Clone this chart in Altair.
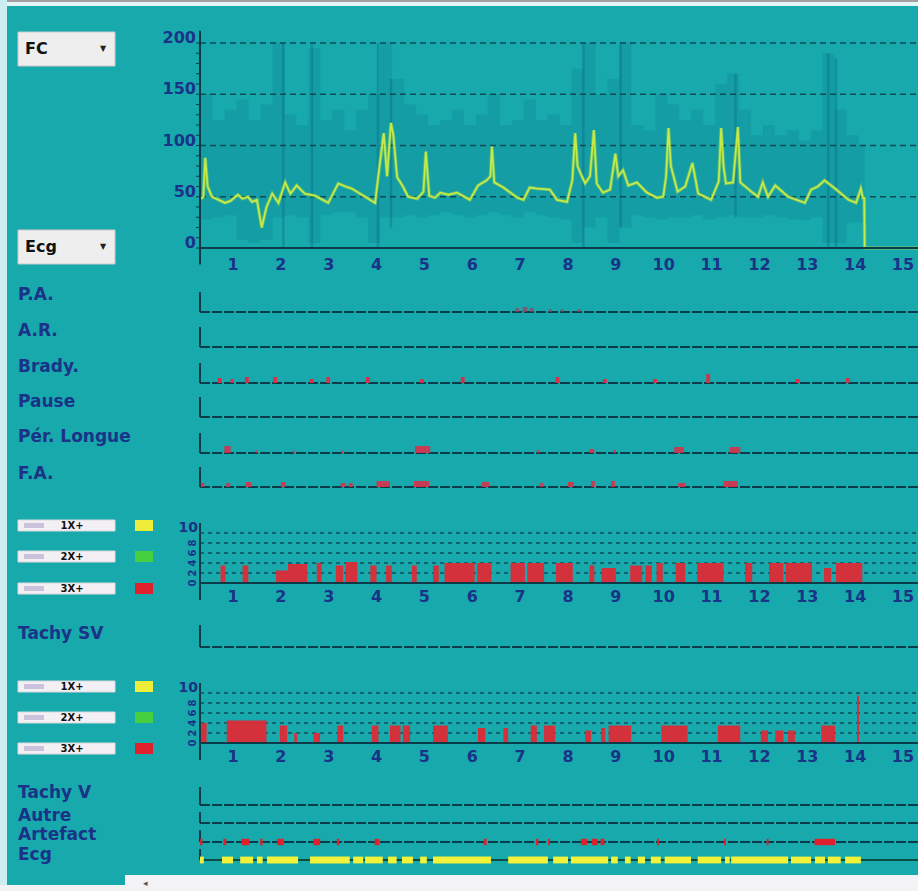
import altair as alt
import pandas as pd

# ---------------- data ----------------
fc_hours = [0.33,0.38,0.42,0.47,0.56,0.70,0.83,0.95,1.10,1.20,1.31,1.40,1.50,1.60,1.70,1.82,1.95,2.09,2.20,2.33,
            2.50,2.71,2.99,3.20,3.35,3.48,3.76,3.97,4.07,4.15,4.22,4.30,4.35,4.43,4.55,4.66,4.85,4.98,5.03,5.10,
            5.22,5.33,5.50,5.68,5.95,6.12,6.30,6.38,6.41,6.46,6.65,6.94,7.07,7.20,7.35,7.62,7.77,7.98,8.09,8.15,
            8.20,8.26,8.36,8.46,8.54,8.60,8.73,8.88,8.99,9.05,9.15,9.26,9.44,9.65,9.86,9.99,10.05,10.10,10.15,10.29,
            10.45,10.60,10.72,10.99,11.15,11.20,11.25,11.30,11.45,11.55,11.60,11.83,11.97,12.07,12.18,12.33,12.60,12.95,13.08,13.22,
            13.36,13.58,13.86,14.02,14.12,14.16,14.19,14.20,15.30]
fc_bpm = [48,50,88,60,50,47,44,46,52,48,50,45,47,20,40,53,44,64,53,61,
          53,51,44,63,60,58,50,44,83,112,70,122,110,69,60,50,48,55,94,51,
          49,54,52,54,47,61,66,70,99,64,59,49,47,59,58,57,47,45,66,112,
          80,73,63,70,115,63,54,57,92,70,76,61,64,54,49,50,70,117,80,55,
          60,83,53,47,65,117,80,63,64,118,64,55,50,64,50,61,50,44,57,60,
          66,58,47,44,58,49,49,0,0]

env_hours = [0.45,0.70,0.95,1.20,1.45,1.70,1.95,2.20,2.45,2.70,2.95,3.20,3.45,3.70,3.95,4.20,4.45,4.70,4.95,5.20,
             5.45,5.70,5.95,6.20,6.45,6.70,6.95,7.20,7.45,7.70,7.95,8.20,8.45,8.70,8.95,9.20,9.45,9.70,9.95,10.20,
             10.45,10.70,10.95,11.20,11.45,11.70,11.95,12.20,12.45,12.70,12.95,13.20,13.45,13.70,13.95,14.20]
env_high = [150,125,135,145,125,140,200,130,120,195,125,135,115,135,150,200,165,140,130,120,
            125,135,120,130,150,120,125,145,125,130,120,175,200,150,165,200,120,115,150,140,
            125,135,120,160,170,135,110,120,110,115,105,115,190,135,110,100]
env_low = [28,30,32,8,5,8,30,32,30,5,32,35,35,30,5,30,30,32,30,32,
           35,32,30,32,35,32,30,35,32,30,28,5,20,30,5,20,32,30,28,30,
           30,32,28,30,32,30,30,32,30,28,27,30,5,5,25,25]

spike_hours = [2.05, 2.65, 4.03, 4.30, 8.32, 9.10, 11.50, 13.44, 13.60]
spike_low = [0, 0, 0, 20, 0, 20, 30, 0, 0]
spike_high = [200, 200, 200, 165, 200, 200, 170, 190, 185]

hour_labels = list(range(1, 16))
fc_ticks = [0, 50, 100, 150, 200]
esv_grid = [2, 4, 6, 8, 10]
esv_small = [0, 2, 4, 6, 8]

# events: (start hour, end hour, height as share of the row)
pa_events = [(6.90,6.98,0.20),(7.05,7.15,0.25),(7.20,7.28,0.20),(7.60,7.66,0.15),(7.85,7.90,0.15),(8.20,8.26,0.15)]
brady_events = [(0.68,0.76,0.25),(0.95,1.01,0.2),(1.25,1.33,0.3),(1.84,1.92,0.3),(2.60,2.68,0.2),(2.95,3.03,0.3),
                (3.78,3.86,0.3),(4.91,4.99,0.2),(5.76,5.84,0.3),(7.74,7.82,0.3),(8.73,8.81,0.2),(9.78,9.86,0.2),
                (10.89,10.97,0.45),(12.76,12.84,0.2),(13.81,13.89,0.25)]
pl_events = [(0.82,0.95,0.35),(1.47,1.51,0.12),(2.25,2.29,0.12),(3.26,3.30,0.12),(4.80,5.12,0.35),(7.35,7.40,0.15),
             (8.45,8.55,0.2),(8.95,9.00,0.15),(10.22,10.42,0.3),(11.38,11.60,0.3)]
fa_events = [(0.33,0.40,0.2),(0.86,0.94,0.2),(1.26,1.38,0.25),(2.00,2.10,0.25),(3.25,3.35,0.2),(3.42,3.50,0.2),
             (4.00,4.28,0.3),(4.78,5.10,0.3),(6.20,6.35,0.25),(7.42,7.48,0.2),(8.00,8.12,0.25),(8.48,8.56,0.3),
             (8.90,8.98,0.3),(10.30,10.45,0.2),(11.25,11.55,0.3)]
art_events = [(0.31,0.36),(0.80,0.86),(1.18,1.34),(1.57,1.62),(1.92,2.06),(2.68,2.82),(3.17,3.22),(3.96,4.06),
              (6.24,6.30),(7.33,7.38),(7.58,7.62),(8.27,8.40),(8.50,8.62),(8.68,8.76),(9.86,9.90),(11.26,11.30),
              (12.15,12.19),(13.15,13.58)]
ecg_segments = [(0.31,0.39),(0.77,1.00),(1.15,1.42),(1.50,1.62),(1.71,2.36),(2.61,3.44),(3.51,3.72),(3.76,4.13),
                (4.24,4.42),(4.53,4.76),(4.91,5.05),(5.18,6.39),(6.75,7.58),(7.69,8.00),(8.06,8.84),(8.90,9.04),
                (9.19,9.31),(9.46,9.61),(9.73,9.94),(10.02,10.57),(10.71,11.20),(11.28,11.38),(11.41,12.60),
                (12.66,13.08),(13.16,13.37),(13.43,13.70),(13.79,14.12)]
# ESV counts per hour (bars), 0-10 scale
esv_sv = [(0.74,0.84,3.5),(1.20,1.32,3.5),(1.90,2.15,2.5),(2.15,2.55,3.8),(2.75,2.85,4.0),(3.15,3.30,3.5),
          (3.35,3.60,4.2),(3.87,4.00,3.5),(4.20,4.32,3.5),(4.74,4.84,3.5),(5.18,5.30,3.5),(5.42,6.05,4.0),
          (6.10,6.40,4.0),(6.80,7.10,4.0),(7.15,7.50,4.0),(7.75,8.10,4.0),(8.45,8.55,3.5),(8.70,9.00,3.0),
          (9.30,9.55,3.5),(9.62,9.75,3.5),(9.85,9.98,4.0),(10.25,10.45,4.0),(10.70,11.25,4.0),(11.70,11.85,4.0),
          (12.20,12.50,4.0),(12.55,13.10,4.0),(13.35,13.50,3.0),(13.60,14.15,4.0)]
esv_v = [(0.33,0.45,4.0),(0.87,1.70,4.5),(1.98,2.13,3.5),(2.28,2.34,2.0),(2.68,2.82,2.0),(3.18,3.30,3.5),
         (3.90,4.04,3.5),(4.28,4.50,3.5),(4.55,4.70,3.5),(5.18,5.49,3.5),(6.12,6.27,3.0),(6.65,6.75,3.0),
         (7.22,7.35,3.5),(7.50,7.73,3.5),(8.36,8.48,2.5),(8.69,8.78,3.0),(8.85,9.32,3.5),(9.95,10.50,3.5),
         (11.13,11.60,3.5),(12.03,12.18,2.5),(12.33,12.50,2.5),(12.60,12.74,2.5),(13.29,13.58,3.5),(14.04,14.08,9.5)]

# ---------------- styling / layout ----------------
W, H = 918, 891
BG = "#17a9ab"
DARK = "#0b3b48"
LABEL = "#1a3388"
LIME = "#c4ea48"
RED = "#dd2a36"
FONT = "DejaVu Sans"
X_MIN, X_MAX = -3.8687, 15.3136
AX0 = 0.31

XS = alt.Scale(domain=[X_MIN, X_MAX], nice=False, zero=False)
ONE = pd.DataFrame({"a": [0]})


def X(f):
    return alt.X(f"{f}:Q", scale=XS, axis=None)


def ys(domain, base, top):
    return alt.Scale(domain=domain, range=[base, top], nice=False, zero=False)


def Y(f, scale):
    return alt.Y(f"{f}:Q", scale=scale, axis=None)


def box(x0, x1, y0, y1, fill, stroke=None):
    kw = dict(fill=fill)
    if stroke:
        kw.update(stroke=stroke, strokeWidth=1)
    return alt.Chart(ONE).mark_rect(**kw).encode(
        x=alt.value(x0), x2=alt.value(x1), y=alt.value(y0), y2=alt.value(y1))


def txt(s, x, y, size=17, color=LABEL, align="left", weight="bold", angle=None):
    kw = dict(text=s, align=align, baseline="middle", fontSize=size, fontWeight=weight, font=FONT, color=color)
    if angle is not None:
        kw["angle"] = angle
    return alt.Chart(ONE).mark_text(**kw).encode(x=alt.value(x), y=alt.value(y))


layers = []

# window chrome
layers += [box(0, W, 0, 2, "#a39ea4"), box(0, W, 2, 6, "#e4f5f6"), box(0, 7, 0, H, "#cdeef0"),
           box(125, W, 875, H, "#f3f2f5"), box(0, 125, 885, H, "#f3f2f5")]
layers.append(txt("◂", 143, 883, size=9, color="#555555", weight="normal"))

# ---------------- FC panel ----------------
FCS = ys([0, 200], 248, 43)
env = pd.DataFrame({"h": env_hours, "lo": env_low, "hi": env_high})
env["s"] = env["h"] - 0.125
env["e"] = (env["h"] + 0.125).clip(upper=14.2)
layers.append(alt.Chart(env).mark_rect(color="#0c6a90", opacity=0.19).encode(
    x=X("s"), x2="e", y=Y("lo", FCS), y2="hi"))
spk = pd.DataFrame({"h": spike_hours, "lo": spike_low, "hi": spike_high})
layers.append(alt.Chart(spk).mark_rule(color="#0a5a7c", opacity=0.3, strokeWidth=2.5).encode(
    x=X("h"), y=Y("lo", FCS), y2="hi"))

grid = pd.DataFrame({"v": fc_ticks[1:], "x0": AX0, "x1": X_MAX})
layers.append(alt.Chart(grid).mark_rule(color=DARK, strokeWidth=1.5, strokeDash=[6, 4], opacity=0.85).encode(
    x=X("x0"), x2="x1", y=Y("v", FCS)))

fc = pd.DataFrame({"h": fc_hours, "v": fc_bpm})
layers.append(alt.Chart(fc).mark_line(color="#9ed84a", strokeWidth=3.5, opacity=0.5).encode(x=X("h"), y=Y("v", FCS)))
layers.append(alt.Chart(fc).mark_line(color=LIME, strokeWidth=1.8).encode(x=X("h"), y=Y("v", FCS)))

# axes
layers.append(alt.Chart(pd.DataFrame({"x0": [AX0], "x1": [X_MAX], "v": [0]})).mark_rule(
    color=DARK, strokeWidth=2).encode(x=X("x0"), x2="x1", y=Y("v", FCS)))
layers.append(alt.Chart(pd.DataFrame({"x": [AX0], "a": [-16], "b": [212]})).mark_rule(
    color=DARK, strokeWidth=2).encode(x=X("x"), y=Y("a", FCS), y2="b"))
minor = pd.DataFrame({"v": list(range(0, 201, 10))})
layers.append(alt.Chart(minor).mark_rule(color=DARK, strokeWidth=1).encode(
    x=alt.value(196), x2=alt.value(200), y=Y("v", FCS)))
fcl = pd.DataFrame({"v": fc_ticks, "t": [str(t) for t in fc_ticks]})
layers.append(alt.Chart(fcl).mark_text(align="right", baseline="middle", fontSize=16, fontWeight="bold",
                                       font=FONT, color=LABEL, dy=-5).encode(
    x=alt.value(196), y=Y("v", FCS), text="t:N"))

hours_df = pd.DataFrame({"h": hour_labels, "t": [str(h) for h in hour_labels]})


def hour_axis(ypix):
    return alt.Chart(hours_df).mark_text(align="center", baseline="middle", fontSize=16, fontWeight="bold",
                                         font=FONT, color=LABEL).encode(x=X("h"), y=alt.value(ypix), text="t:N")


layers.append(hour_axis(265))

# dropdowns
for label, y0 in [("FC", 32), ("Ecg", 230)]:
    layers.append(box(18, 115, y0, y0 + 34, "#eeeeee", "#c9c9c9"))
    layers.append(txt(label, 25, y0 + 17, size=16, color="#111111"))
    layers.append(txt("▼", 103, y0 + 17, size=8, color="#222222", align="center"))


# ---------------- event rows ----------------
def event_row(label, label_y, base, events=None, color=RED, opacity=1.0, axis_h=20, centered=False):
    out = []
    sc = ys([0, 1], base, base - 20)
    out.append(txt(label, 18, label_y))
    out.append(alt.Chart(pd.DataFrame({"x0": [AX0], "x1": [X_MAX], "v": [0]})).mark_rule(
        color=DARK, strokeWidth=2, strokeDash=[10, 2]).encode(x=X("x0"), x2="x1", y=Y("v", sc)))
    out.append(alt.Chart(pd.DataFrame({"x": [AX0], "a": [0], "b": [axis_h / 20.0]})).mark_rule(
        color=DARK, strokeWidth=2).encode(x=X("x"), y=Y("a", sc), y2="b"))
    if events:
        if centered:
            df = pd.DataFrame(events, columns=["s", "e"])
            df["lo"], df["hi"] = -0.16, 0.16
        else:
            df = pd.DataFrame(events, columns=["s", "e", "hi"])
            df["lo"] = 0.0
        out.append(alt.Chart(df).mark_rect(color=color, opacity=opacity).encode(
            x=X("s"), x2="e", y=Y("lo", sc), y2="hi"))
    return out


layers += event_row("P.A.", 295, 312, pa_events, color="#9a3e62", opacity=0.7)
layers += event_row("A.R.", 331, 347)
layers += event_row("Brady.", 367, 383, brady_events, color="#d8304a")
layers += event_row("Pause", 402, 417)
layers += event_row("Pér. Longue", 437, 453, pl_events, color="#d8304a", opacity=0.9)
layers += event_row("F.A.", 474, 487, fa_events, color="#d8304a", opacity=0.9)
layers += event_row("Tachy SV", 634, 647, axis_h=22)
layers += event_row("Tachy V", 793, 805, axis_h=18)
layers += event_row("Autre", 816, 823, axis_h=11)
layers += event_row("Artefact", 835, 842, art_events, color="#e0202c", axis_h=12, centered=True)

# Ecg quality row
ecg_sc = ys([0, 1], 860, 840)
layers.append(txt("Ecg", 18, 855))
layers.append(alt.Chart(pd.DataFrame({"x0": [AX0], "x1": [X_MAX], "v": [0]})).mark_rule(
    color="#0e4d44", strokeWidth=2).encode(x=X("x0"), x2="x1", y=Y("v", ecg_sc)))
layers.append(alt.Chart(pd.DataFrame({"x": [AX0], "a": [0], "b": [0.55]})).mark_rule(
    color=DARK, strokeWidth=2).encode(x=X("x"), y=Y("a", ecg_sc), y2="b"))
ecg_df = pd.DataFrame(ecg_segments, columns=["s", "e"])
ecg_df["lo"], ecg_df["hi"] = -0.17, 0.17
layers.append(alt.Chart(ecg_df).mark_rect(color="#f2f23a").encode(
    x=X("s"), x2="e", y=Y("lo", ecg_sc), y2="hi"))


# ---------------- ESV panels ----------------
def esv_panel(base, bars, label_y, legend_ys, names):
    out = []
    sc = ys([0, 10], base, base - 50)
    g = pd.DataFrame({"v": esv_grid, "x0": AX0, "x1": X_MAX})
    out.append(alt.Chart(g).mark_rule(color=DARK, strokeWidth=1.3, strokeDash=[4, 4], opacity=0.8).encode(
        x=X("x0"), x2="x1", y=Y("v", sc)))
    df = pd.DataFrame(bars, columns=["s", "e", "hi"])
    df["lo"] = 0.0
    out.append(alt.Chart(df).mark_rect(color=RED, opacity=0.95).encode(
        x=X("s"), x2="e", y=Y("lo", sc), y2="hi"))
    out.append(alt.Chart(pd.DataFrame({"x0": [AX0], "x1": [X_MAX], "v": [0]})).mark_rule(
        color=DARK, strokeWidth=2).encode(x=X("x0"), x2="x1", y=Y("v", sc)))
    out.append(alt.Chart(pd.DataFrame({"x": [AX0], "a": [-3.4], "b": [12.0]})).mark_rule(
        color=DARK, strokeWidth=2).encode(x=X("x"), y=Y("a", sc), y2="b"))
    out.append(alt.Chart(pd.DataFrame({"v": [10], "t": ["10"]})).mark_text(
        align="right", baseline="middle", fontSize=14, fontWeight="bold", font=FONT, color=LABEL, dy=-5).encode(
        x=alt.value(198), y=Y("v", sc), text="t:N"))
    sm = pd.DataFrame({"v": esv_small, "t": [str(v) for v in esv_small]})
    out.append(alt.Chart(sm).mark_text(align="center", baseline="middle", fontSize=10, fontWeight="bold",
                                       font=FONT, color=LABEL, angle=270).encode(
        x=alt.value(193), y=Y("v", sc), text="t:N"))
    out.append(hour_axis(label_y))
    for (y0, name, col) in zip(legend_ys, names, ["#eeee3a", "#46d040", "#e0202c"]):
        out.append(box(18, 115, y0, y0 + 11, "#f2f0f4", "#d8d8dc"))
        out.append(box(24, 44, y0 + 3, y0 + 8, "#cbc3dc"))
        out.append(txt(name, 72, y0 + 5.5, size=10, color="#111111", align="center"))
        out.append(box(135, 153, y0, y0 + 11, col))
    return out


layers += esv_panel(583, esv_sv, 597, [520, 551, 583], ["1X+", "2X+", "3X+"])
layers += esv_panel(743, esv_v, 757, [681, 712, 743], ["1X+", "2X+", "3X+"])

chart = alt.layer(*layers).resolve_scale(y="independent").properties(
    width=W, height=H, autosize=alt.AutoSizeParams(type="none"), padding=0, background=BG
).configure_view(stroke=None)

chart.save("out.html", embed_options={"renderer": "svg", "actions": False})
